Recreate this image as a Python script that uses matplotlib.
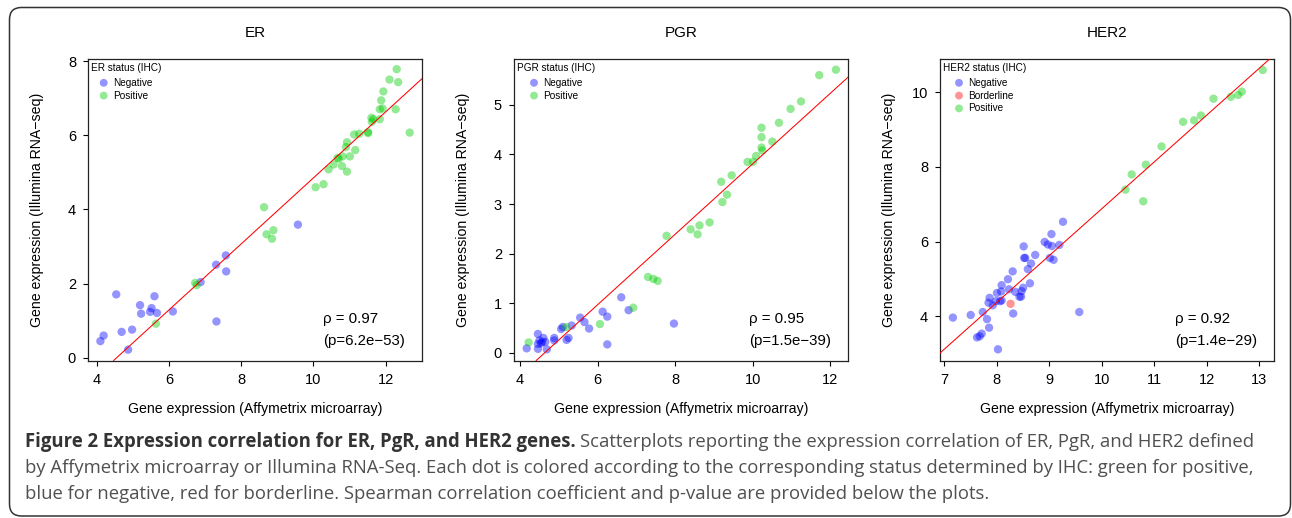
import matplotlib
matplotlib.use("Agg")
import matplotlib.pyplot as plt
from matplotlib.patches import FancyBboxPatch
from matplotlib.transforms import ScaledTranslation

plt.rcParams['font.family'] = ['Liberation Sans', 'DejaVu Sans']

# ---------------- data ----------------
titles = ["ER", "PGR", "HER2"]
legend_titles = ["ER status (IHC)", "PGR status (IHC)", "HER2 status (IHC)"]

er_neg_x = [4.09, 4.18, 4.53, 4.68, 4.86, 4.97, 5.19, 5.22, 5.47, 5.51, 5.59, 5.66,
            6.10, 6.87, 7.30, 7.31, 7.57, 7.58, 9.57]
er_neg_y = [0.45, 0.60, 1.71, 0.70, 0.22, 0.76, 1.42, 1.19, 1.24, 1.34, 1.66, 1.21,
            1.25, 2.04, 2.51, 0.98, 2.76, 2.33, 3.59]
er_pos_x = [5.63, 6.72, 6.76, 8.63, 8.70, 8.85, 8.89, 10.06, 10.28, 10.42, 10.56, 10.70,
            10.67, 10.79, 10.81, 10.90, 10.93, 10.93, 11.01, 11.16, 11.13, 11.27, 11.52,
            11.51, 11.61, 11.66, 11.84, 11.62, 11.84, 11.92, 11.88, 11.94, 12.11, 12.28,
            12.31, 12.35, 12.67]
er_pos_y = [0.92, 2.02, 1.96, 4.06, 3.33, 3.21, 3.44, 4.60, 4.68, 5.08, 5.21, 5.37,
            5.39, 5.17, 5.43, 5.68, 5.81, 5.02, 5.43, 5.60, 6.02, 6.04, 6.06,
            6.08, 6.47, 6.43, 6.43, 6.36, 6.70, 6.72, 6.94, 7.18, 7.50, 6.70,
            7.78, 7.43, 6.07]

pgr_neg_x = [4.17, 4.46, 4.46, 4.46, 4.50, 4.54, 4.57, 4.60, 4.65, 4.69, 4.88, 4.88,
             5.06, 5.10, 5.20, 5.25, 5.33, 5.55, 5.66, 5.78, 6.13, 6.25, 6.25, 6.61,
             6.80, 7.97]
pgr_neg_y = [0.09, 0.38, 0.18, 0.08, 0.25, 0.19, 0.22, 0.30, 0.22, 0.07, 0.30, 0.25,
             0.48, 0.52, 0.26, 0.30, 0.55, 0.71, 0.62, 0.49, 0.83, 0.73, 0.17, 1.12,
             0.86, 0.59]
pgr_pos_x = [4.22, 5.19, 6.06, 6.92, 7.30, 7.44, 7.55, 7.78, 8.40, 8.58, 8.63, 8.89,
             9.19, 9.22, 9.34, 9.46, 9.87, 10.01, 10.09, 10.23, 10.23, 10.23, 10.25,
             10.51, 10.68, 10.98, 11.25, 11.72, 12.15]
pgr_pos_y = [0.21, 0.52, 0.58, 0.91, 1.53, 1.49, 1.45, 2.36, 2.49, 2.39, 2.57, 2.63,
             3.45, 3.04, 3.19, 3.58, 3.85, 3.85, 3.97, 4.14, 4.35, 4.54, 4.08,
             4.26, 4.64, 4.92, 5.07, 5.60, 5.71]

her2_neg_x = [7.16, 7.50, 7.73, 7.81, 7.85, 7.62, 7.67, 7.71, 8.02, 7.84, 7.86, 7.92,
              7.98, 8.00, 8.06, 8.09, 8.08, 8.09, 8.21, 8.23, 8.30, 8.31, 8.35, 8.43,
              8.46, 8.47, 8.50, 8.51, 8.52, 8.54, 8.59, 8.63, 8.65, 8.73, 8.91, 8.97,
              9.05, 9.04, 9.01, 9.08, 9.19, 9.26, 9.57]
her2_neg_y = [3.96, 4.03, 4.11, 3.92, 3.69, 3.43, 3.46, 3.53, 3.11, 4.36, 4.49, 4.29,
              4.40, 4.62, 4.40, 4.42, 4.66, 4.83, 4.99, 4.72, 5.20, 4.07, 4.65, 4.52,
              4.52, 4.67, 4.76, 5.87, 5.56, 5.56, 5.26, 4.88, 5.41, 5.64, 5.99, 5.92,
              5.88, 6.20, 5.56, 5.51, 5.91, 6.53, 4.11]
her2_bord_x = [8.26]
her2_bord_y = [4.33]
her2_pos_x = [10.45, 10.57, 10.79, 10.84, 11.14, 11.55, 11.76, 11.89, 12.13, 12.46,
              12.60, 12.67, 13.07]
her2_pos_y = [7.39, 7.80, 7.08, 8.06, 8.55, 9.21, 9.25, 9.38, 9.83, 9.88,
              9.93, 10.02, 10.60]

# regression lines (intercept, slope)
fit_intercepts = [-4.03, -3.29, -5.66]
fit_slopes = [0.888, 0.710, 1.254]

rho_labels = ["ρ = 0.97", "ρ = 0.95", "ρ = 0.92"]
p_labels = ["(p=6.2e−53)", "(p=1.5e−39)", "(p=1.4e−29)"]

x_ticks = [[4, 6, 8, 10, 12], [4, 6, 8, 10, 12], [7, 8, 9, 10, 11, 12, 13]]
y_ticks = [[0, 2, 4, 6, 8], [0, 1, 2, 3, 4, 5], [4, 6, 8, 10]]
x_lims = [(3.755, 13.02), (3.85, 12.47), (6.92, 13.29)]
y_lims = [(-0.072, 8.06), (-0.155, 5.93), (2.81, 10.90)]

panels = [
    [("Negative", er_neg_x, er_neg_y), ("Positive", er_pos_x, er_pos_y)],
    [("Negative", pgr_neg_x, pgr_neg_y), ("Positive", pgr_pos_x, pgr_pos_y)],
    [("Negative", her2_neg_x, her2_neg_y), ("Borderline", her2_bord_x, her2_bord_y),
     ("Positive", her2_pos_x, her2_pos_y)],
]

caption_bold = "Figure 2 Expression correlation for ER, PgR, and HER2 genes."
caption_line1 = "Scatterplots reporting the expression correlation of ER, PgR, and HER2 defined"
caption_line2 = ("by Affymetrix microarray or Illumina RNA-Seq. Each dot is colored according to "
                 "the corresponding status determined by IHC: green for positive,")
caption_line3 = ("blue for negative, red for borderline. Spearman correlation coefficient "
                 "and p-value are provided below the plots.")

xlabel = "Gene expression (Affymetrix microarray)"
ylabel = "Gene expression (Illumina RNA−seq)"

# ---------------- style ----------------
colors = {"Negative": (0.0, 0.0, 1.0), "Borderline": (1.0, 0.0, 0.0), "Positive": (0.0, 0.8, 0.0)}
ALPHA = 0.42
W, H = 1292, 518
DPI = 100

fig = plt.figure(figsize=(W / DPI, H / DPI), dpi=DPI)

# outer rounded frame (display pixels)
frame = FancyBboxPatch((9.5, 2.0), 1281.0, 508.5,
                       boxstyle="round,pad=0,rounding_size=12",
                       transform=None, facecolor="none", edgecolor="#333333",
                       linewidth=1.1)
fig.add_artist(frame)

axes_px = [(88.3, 422.3), (514.3, 848.3), (940.3, 1274.3)]
top_px, bot_px = 58.8, 360.5
legend_marker_dx = [15.4, 19.7, 18.7]
legend_text_dx = [24.4, 29.0, 28.0]

for i in range(3):
    l, r = axes_px[i]
    ax = fig.add_axes([l / W, 1 - bot_px / H, (r - l) / W, (bot_px - top_px) / H])
    ax_w, ax_h = r - l, bot_px - top_px

    for name, xs, ys in panels[i]:
        ax.scatter(xs, ys, s=36, color=colors[name], alpha=ALPHA, edgecolors="none",
                   zorder=2)
    ax.axline((0, fit_intercepts[i]), slope=fit_slopes[i], color="red", lw=0.75, zorder=3)

    ax.set_xlim(*x_lims[i])
    ax.set_ylim(*y_lims[i])
    ax.set_xticks(x_ticks[i])
    ax.set_yticks(y_ticks[i])
    ax.tick_params(direction="out", length=3.8, width=0.8, labelsize=10.5, pad=5,
                   colors="black")
    for sp in ax.spines.values():
        sp.set_linewidth(0.9)
        sp.set_color("#222222")

    ax.set_xlabel(xlabel, fontsize=10.2, va="center")
    ax.xaxis.set_label_coords(0.5, -48.5 / ax_h)
    ax.set_ylabel(ylabel, fontsize=10.2, va="center")
    ax.yaxis.set_label_coords(-51.0 / ax_w, 0.5)

    ax.text(0.5, 1 + 25.5 / ax_h, titles[i], transform=ax.transAxes, ha="center",
            va="center", fontsize=11)

    ax.text(0.704, 0.139, rho_labels[i], transform=ax.transAxes, ha="left", va="center",
            fontsize=10.8)
    ax.text(0.704, 0.064, p_labels[i], transform=ax.transAxes, ha="left", va="center",
            fontsize=10.8)

    # legend (R-style, no box)
    def off(dx, dy):
        return ax.transAxes + ScaledTranslation(dx / DPI, -dy / DPI, fig.dpi_scale_trans)

    ax.text(0, 1, legend_titles[i], transform=off(2.5, 8.8), ha="left", va="center",
            fontsize=7.2)
    for k, (name, xs, ys) in enumerate(panels[i]):
        dy = 24.0 + 12.8 * k
        ax.scatter([0], [1], s=32, color=colors[name], alpha=ALPHA, edgecolors="none",
                   transform=off(legend_marker_dx[i], dy), clip_on=False)
        ax.text(0, 1, name, transform=off(legend_text_dx[i], dy), ha="left", va="center",
                fontsize=7.2)

# ---------------- caption ----------------
cap_font = ['Open Sans', 'DejaVu Sans']
renderer = fig.canvas.get_renderer()
probe = fig.text(0, 0, caption_line2, fontsize=10, family=cap_font)
w10 = probe.get_window_extent(renderer).width
probe.remove()
cap_size = 10 * (1232.0 / w10)

x0 = 25.0
baselines = [446.7, 472.7, 498.7]
tb = fig.text(x0 / W, 1 - baselines[0] / H, caption_bold, fontsize=cap_size,
              family=cap_font, weight="bold", color="#333333", va="baseline")
bw = tb.get_window_extent(renderer).width
space = cap_size * 0.26 * DPI / 72
fig.text((x0 + bw + space) / W, 1 - baselines[0] / H, caption_line1, fontsize=cap_size,
         family=cap_font, color="#505050", va="baseline")
fig.text(x0 / W, 1 - baselines[1] / H, caption_line2, fontsize=cap_size,
         family=cap_font, color="#505050", va="baseline")
fig.text(x0 / W, 1 - baselines[2] / H, caption_line3, fontsize=cap_size,
         family=cap_font, color="#505050", va="baseline")

fig.savefig("out.png", dpi=DPI)
